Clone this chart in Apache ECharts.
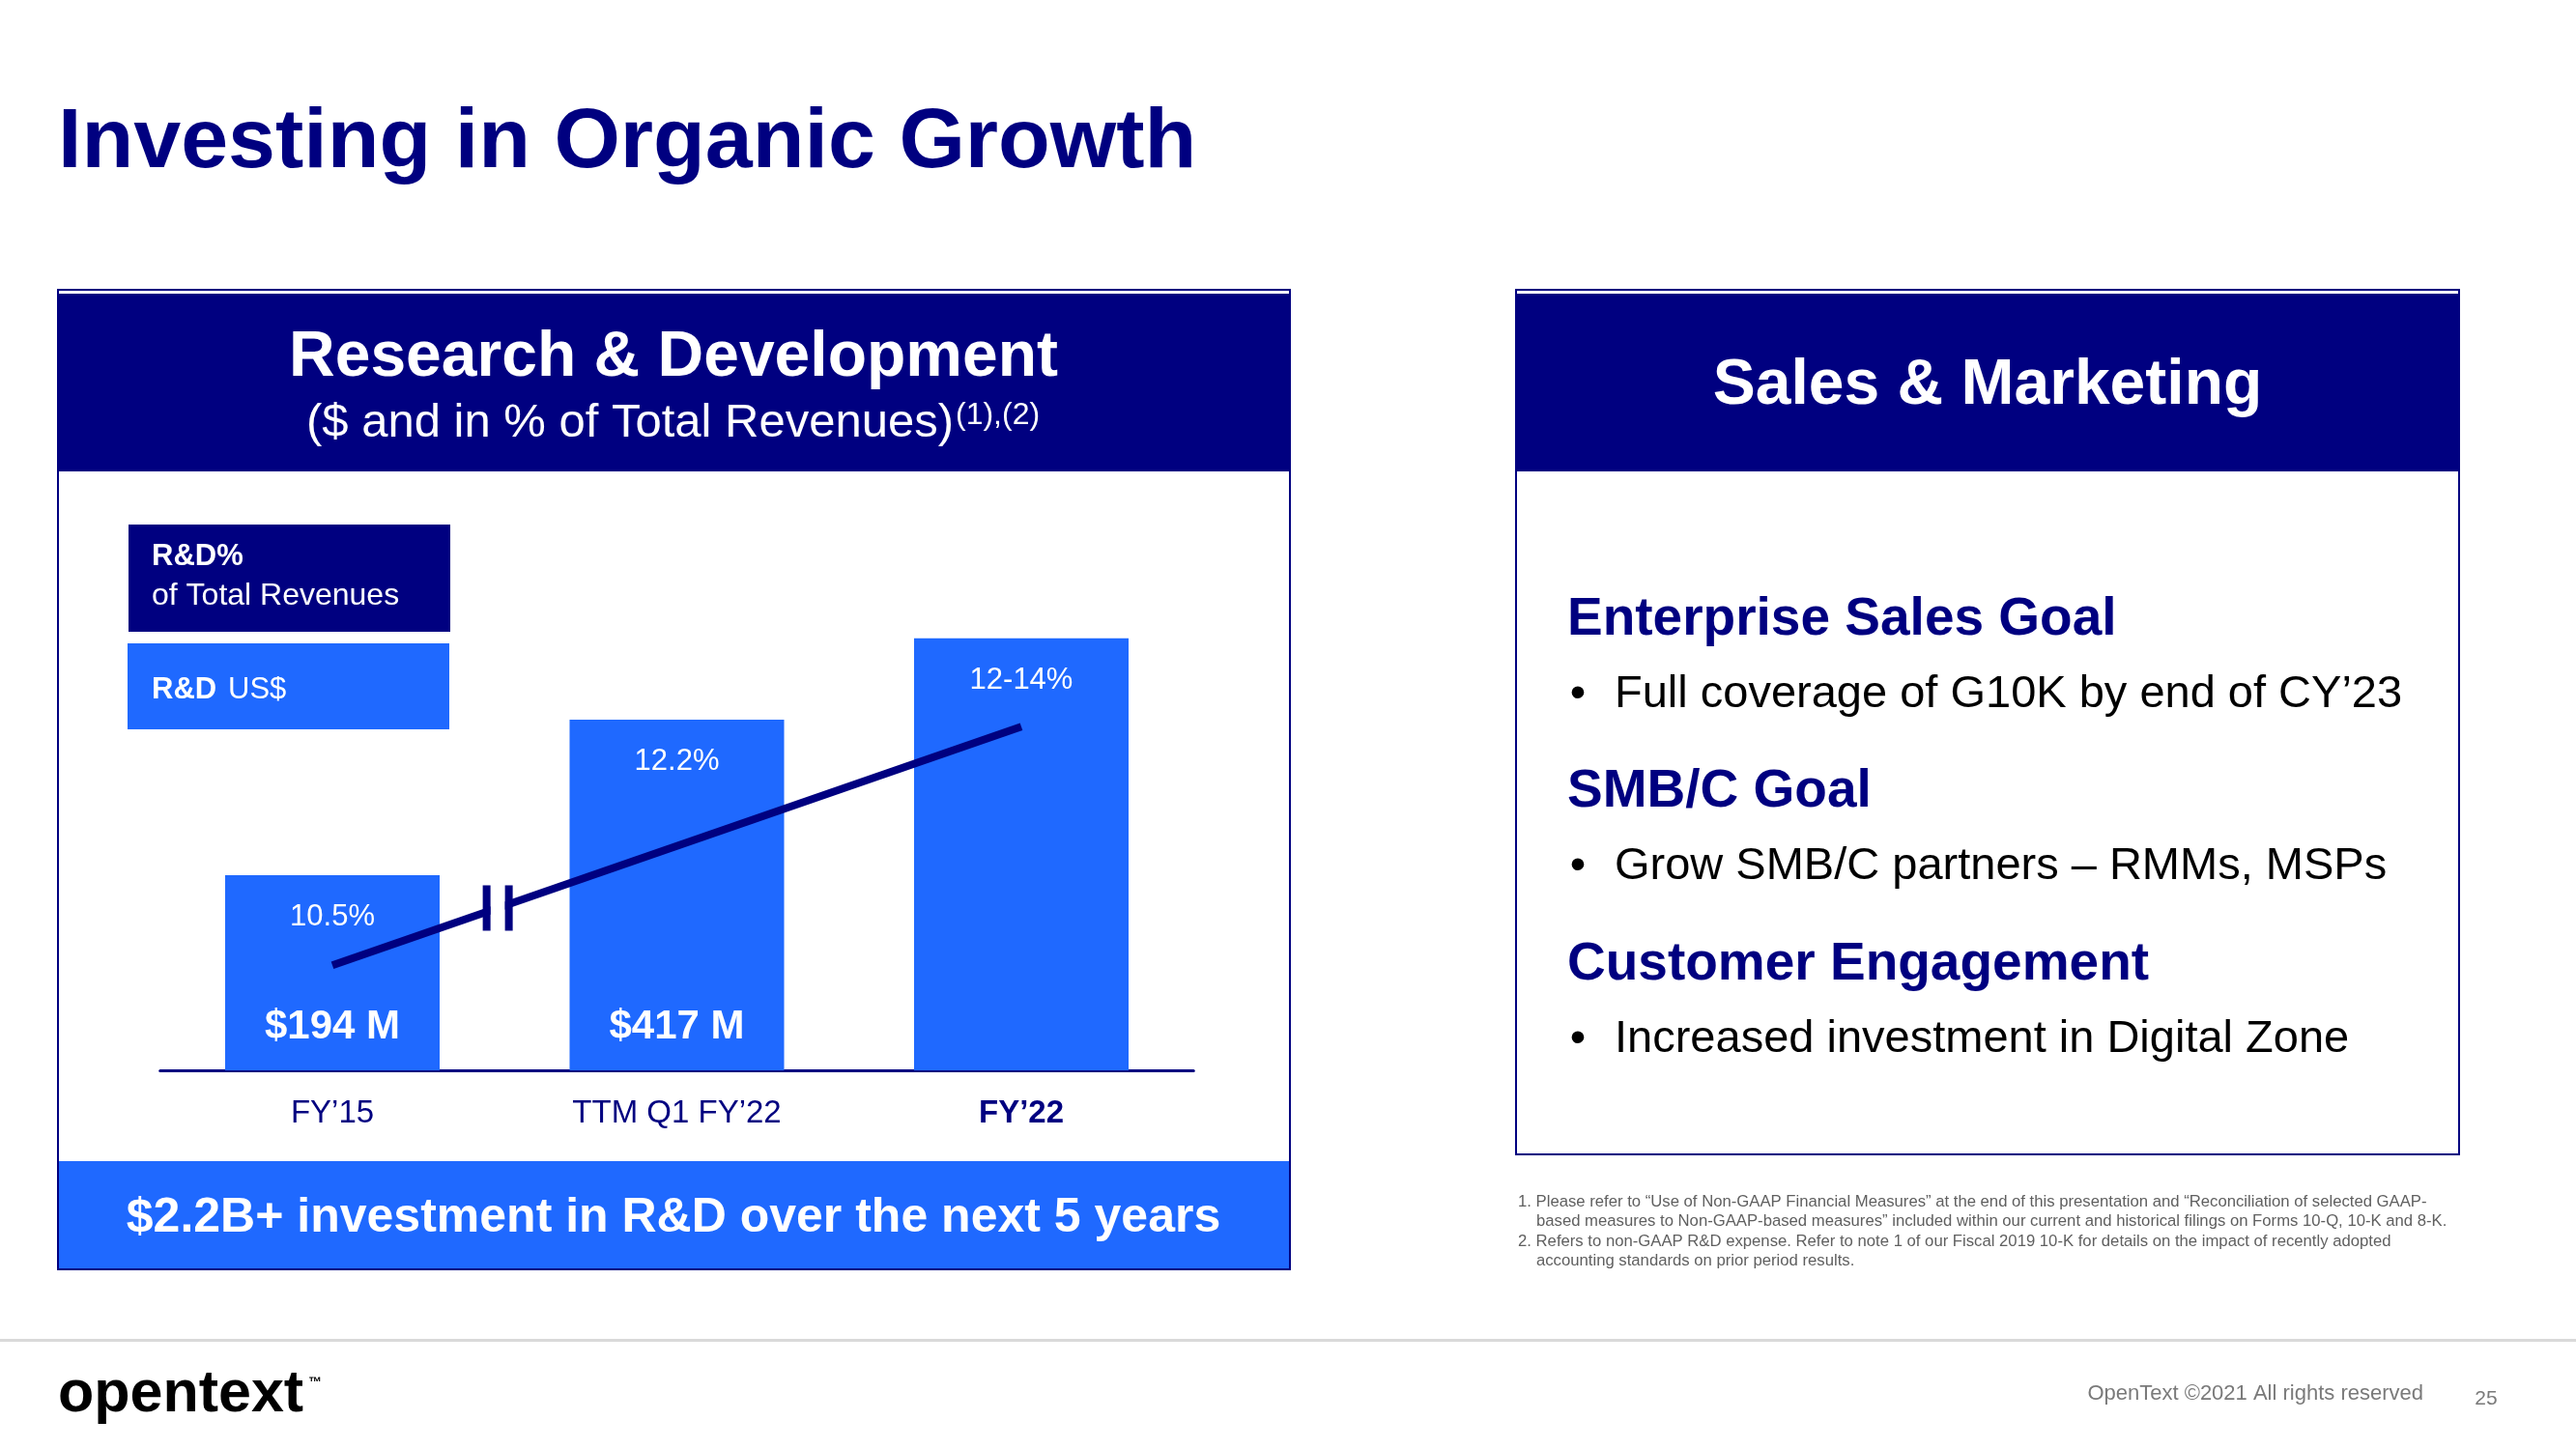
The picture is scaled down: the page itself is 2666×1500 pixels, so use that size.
<!DOCTYPE html>
<html><head><meta charset="utf-8">
<script src="https://cdn.jsdelivr.net/npm/echarts@6/dist/echarts.min.js"></script>
<style>html,body{margin:0;padding:0;background:#fff}#c{width:2666px;height:1500px}</style>
</head><body><div id="c"></div>
<script>
// ---------- data ----------
const categories = ['FY’15', 'TTM Q1 FY’22', 'FY’22'];
const rdUsd = [194, 417, 498];            // R&D US$ M (FY’22 unlabelled)
const rdUsdLabels = ['$194 M', '$417 M', ''];
const rdPct = [10.5, 12.2, 13];           // R&D % of total revenues (FY’22 = 12–14% range midpoint)
const rdPctLabels = ['10.5%', '12.2%', '12-14%'];
const smHeadings = ['Enterprise Sales Goal', 'SMB/C Goal', 'Customer Engagement'];
const smBullets = ['Full coverage of G10K by end of CY’23', 'Grow SMB/C partners – RMMs, MSPs', 'Increased investment in Digital Zone'];
const footnotes = [
  '1. Please refer to “Use of Non-GAAP Financial Measures” at the end of this presentation and “Reconciliation of selected GAAP-',
  'based measures to Non-GAAP-based measures” included within our current and historical filings on Forms 10-Q, 10-K and 8-K.',
  '2. Refers to non-GAAP R&D expense. Refer to note 1 of our Fiscal 2019 10-K for details on the impact of recently adopted',
  'accounting standards on prior period results.'
];

// ---------- style ----------
const NAVY = '#000080', BLUE = '#1F69FF', FF = '"Liberation Sans", Arial, sans-serif';

function txt(id, text, x, y, size, opts) {
  opts = opts || {};
  return {
    type: 'text', id: id, z: opts.z || 50,
    style: {
      text: text, x: x, y: y + 0.07 * size, fill: opts.color || '#fff',
      fontSize: size, fontWeight: opts.bold ? 'bold' : 'normal', fontFamily: FF,
      textAlign: opts.align || 'left', align: opts.align || 'left',
      textVerticalAlign: 'middle', verticalAlign: 'middle'
    }
  };
}
function rect(id, x, y, w, h, fill, stroke, lw, z) {
  return { type: 'rect', id: id, z: z == null ? 1 : z, shape: { x: x, y: y, width: w, height: h },
    style: { fill: fill || 'none', stroke: stroke || 'none', lineWidth: lw || 0 } };
}

const graphics = [
  txt('title', 'Investing in Organic Growth', 60, 143, 88, { bold: true, color: NAVY }),
  // left panel
  rect('lpBorder', 60, 300, 1275, 1014, 'none', NAVY, 2),
  rect('lpHead', 61, 304, 1273, 184, NAVY),
  txt('lpTitle', 'Research & Development', 697, 366, 66, { bold: true, align: 'center' }),
  txt('lpSub', '($ and in % of Total Revenues)', 987, 435, 49, { align: 'right' }),
  txt('lpSup', '(1),(2)', 989, 428, 32),
  rect('lgNavy', 133, 543, 333, 111, NAVY),
  txt('lg1a', 'R&D%', 157, 574, 31, { bold: true }),
  txt('lg1b', 'of Total Revenues', 157, 615, 32),
  rect('lgBlue', 132, 666, 333, 89, BLUE),
  txt('lg2a', 'R&D', 157, 712, 31, { bold: true }),
  txt('lg2b', 'US$', 236, 712, 31),
  rect('lpBanner', 61, 1202, 1273, 111, BLUE),
  txt('lpBannerTxt', '$2.2B+ investment in R&D over the next 5 years', 697, 1258, 50, { bold: true, align: 'center' }),
  // right panel
  rect('rpBorder', 1569, 300, 976, 895, 'none', NAVY, 2),
  rect('rpHead', 1570, 304, 974, 184, NAVY),
  txt('rpTitle', 'Sales & Marketing', 2057, 395, 66, { bold: true, align: 'center' })
];
const headY = [638, 816, 995], bulletY = [716, 894, 1073];
smHeadings.forEach((h, i) => {
  graphics.push(txt('smH' + i, h, 1622, headY[i], 55, { bold: true, color: NAVY }));
  graphics.push(txt('smD' + i, '•', 1633, bulletY[i], 47, { color: '#000', align: 'center' }));
  graphics.push(txt('smB' + i, smBullets[i], 1671, bulletY[i], 47, { color: '#000' }));
});
const fnY = [1243, 1263, 1284, 1304], fnX = [1571, 1590, 1571, 1590];
footnotes.forEach((f, i) => graphics.push(txt('fn' + i, f, fnX[i], fnY[i], 16.7, { color: '#606060' })));
graphics.push(
  rect('footLine', 0, 1386, 2666, 3, '#D9D9D9'),
  txt('logo', 'opentext', 60, 1440, 61, { bold: true, color: '#000' }),
  txt('logoTm', '™', 319, 1430, 14, { bold: true, color: '#000' }),
  txt('copy', 'OpenText ©2021 All rights reserved', 2508, 1441, 22, { color: '#7A7A7A', align: 'right' }),
  txt('page', '25', 2573, 1447, 21, { color: '#7A7A7A', align: 'center' })
);

const chart = echarts.init(document.getElementById('c'), null, { renderer: 'canvas', width: 2666, height: 1500 });
chart.setOption({
  backgroundColor: '#ffffff',
  animation: false,
  textStyle: { fontFamily: FF },
  grid: { left: 165.75, right: 1430.75, top: 554.5, bottom: 392, containLabel: false },
  xAxis: {
    type: 'category', data: categories,
    axisLine: { show: true, lineStyle: { color: NAVY, width: 3 } },
    axisTick: { show: false },
    axisLabel: {
      fontSize: 33, color: NAVY, margin: 28, fontFamily: FF,
      formatter: (v, i) => i === 2 ? '{b|' + v + '}' : v,
      rich: { b: { fontSize: 33, color: NAVY, fontWeight: 'bold', fontFamily: FF } }
    }
  },
  yAxis: [
    { type: 'value', min: 0, max: 600, show: false,
      breaks: [{ start: 250, end: 318.4, gap: 0 }],
      breakArea: { show: false, itemStyle: { opacity: 0, borderWidth: 0 } } },
    { type: 'value', min: 9.4, max: 15, show: false }
  ],
  series: [
    { type: 'bar', name: 'R&D US$', data: rdUsd, barWidth: 222,
      itemStyle: { color: BLUE },
      label: { show: true, position: 'insideTop', distance: 28, color: '#fff', fontSize: 31, fontFamily: FF,
        formatter: p => rdPctLabels[p.dataIndex] } },
    { type: 'bar', name: 'R&D US$ value', data: rdUsd, barWidth: 222, barGap: '-100%',
      itemStyle: { color: 'rgba(0,0,0,0)' },
      label: { show: true, position: 'insideBottom', distance: 24, color: '#fff', fontSize: 42, fontWeight: 'bold', fontFamily: FF,
        formatter: p => rdUsdLabels[p.dataIndex] } },
    { type: 'line', name: 'R&D % of Total Revenues', yAxisIndex: 1, z: 5,
      data: [rdPct[0], '-', rdPct[2]], connectNulls: true, symbol: 'none',
      lineStyle: { color: NAVY, width: 8 } }
  ],
  graphic: { elements: graphics }
});

// break mark "||" on the trend line, placed between the first two categories
const x0 = chart.convertToPixel({ xAxisIndex: 0 }, 0);
const x1 = chart.convertToPixel({ xAxisIndex: 0 }, 1);
const pA = chart.convertToPixel({ seriesIndex: 2 }, [0, rdPct[0]]);
const pB = chart.convertToPixel({ seriesIndex: 2 }, [2, rdPct[2]]);
const bx = x0 + 0.48 * (x1 - x0);
const by = pA[1] + (bx - pA[0]) / (pB[0] - pA[0]) * (pB[1] - pA[1]);
chart.setOption({ graphic: { elements: [
  rect('brkGap', bx - 7.5, by - 14, 15, 28, '#ffffff', null, 0, 100),
  rect('brkL', bx - 15.5, by - 23.5, 8, 47, NAVY, null, 0, 101),
  rect('brkR', bx + 7.5, by - 23.5, 8, 47, NAVY, null, 0, 101)
] } });
</script></body></html>
